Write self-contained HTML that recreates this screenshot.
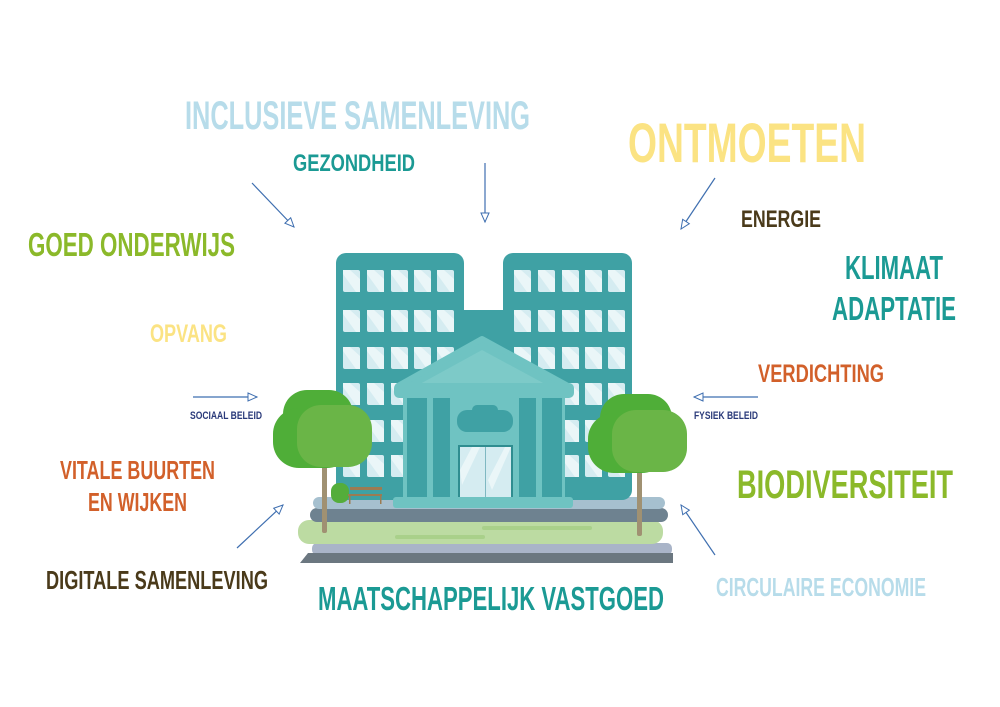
<!DOCTYPE html>
<html><head><meta charset="utf-8"><style>
html,body{margin:0;padding:0;background:#fff;}
svg{display:block;}
text{font-family:"Liberation Sans Narrow","Liberation Sans",sans-serif;font-weight:bold;}
</style></head><body>
<svg width="1000" height="707" viewBox="0 0 1000 707" xmlns="http://www.w3.org/2000/svg">
<defs>
<marker id="ah" markerWidth="12" markerHeight="12" refX="10" refY="5" orient="auto" markerUnits="userSpaceOnUse">
<path d="M1,1 L10,5 L1,9 Z" fill="#fff" stroke="#3f6fb0" stroke-width="1"/>
</marker>
<g id="w"><rect width="17" height="22" rx="2" fill="#d5ecf1"/><path d="M0,4 L13,22 L17,22 L17,9 L7,0 L0,0Z" fill="#eaf6f8"/></g>
</defs>
<rect width="1000" height="707" fill="#fff"/>
<rect x="312" y="543" width="360" height="12" rx="5" fill="#a9b4c8"/>
<path d="M308,553 L673,553 L673,563 L300,563 Z" fill="#6b7780"/>
<rect x="298" y="520" width="365" height="24" rx="11" fill="#bcdba2"/>
<rect x="482" y="526" width="110" height="4" rx="2" fill="#a9d08a"/>
<rect x="395" y="535" width="90" height="4" rx="2" fill="#a9d08a"/>
<rect x="310" y="508" width="358" height="14" rx="7" fill="#6e8290"/>
<rect x="313" y="497" width="352" height="12" rx="6" fill="#a6c0cf"/>
<rect x="464" y="310" width="40" height="190" fill="#3fa1a4"/>
<rect x="336" y="253" width="128" height="247" rx="10" fill="#3fa1a4"/>
<rect x="503" y="253" width="129" height="247" rx="10" fill="#3fa1a4"/>
<g id="wl">
<use href="#w" x="343" y="270"/><use href="#w" x="367" y="270"/><use href="#w" x="391" y="270"/><use href="#w" x="414" y="270"/><use href="#w" x="437" y="270"/>
</g>
<use href="#wl" y="40"/><use href="#wl" y="77"/><use href="#wl" y="113"/><use href="#wl" y="150"/><use href="#wl" y="185"/>
<use href="#wl" x="171"/><use href="#wl" x="171" y="40"/><use href="#wl" x="171" y="77"/><use href="#wl" x="171" y="113"/><use href="#wl" x="171" y="150"/><use href="#wl" x="171" y="185"/>
<path d="M482,339 L398,386 L568,386 Z" fill="#6fc3c2" stroke="#6fc3c2" stroke-width="6" stroke-linejoin="round"/>
<path d="M482,350 L420,384 L545,384 Z" fill="#7dcac8"/>
<rect x="394" y="383" width="180" height="15" rx="5" fill="#6fc3c2"/>
<rect x="403" y="398" width="162" height="100" fill="#6fc3c2"/>
<rect x="407" y="398" width="20" height="100" fill="#3fa1a4"/>
<rect x="433" y="398" width="17" height="100" fill="#3fa1a4"/>
<rect x="519" y="398" width="17" height="100" fill="#3fa1a4"/>
<rect x="542" y="398" width="20" height="100" fill="#3fa1a4"/>
<rect x="457" y="410" width="56" height="22" rx="10" fill="#3fa1a4"/>
<rect x="472" y="405" width="26" height="10" rx="5" fill="#3fa1a4"/>
<rect x="458" y="445" width="55" height="53" fill="#2f8d90"/>
<rect x="460" y="447" width="51" height="51" fill="#d5ecf1"/>
<path d="M460,470 L472,447 L480,447 L462,485Z M488,480 L505,447 L511,447 L492,490Z" fill="#eaf6f8"/>
<line x1="485.5" y1="447" x2="485.5" y2="498" stroke="#7fb8c2" stroke-width="1"/>
<rect x="393" y="497" width="180" height="11" rx="3" fill="#6fc3c2"/>
<rect x="331" y="483" width="18" height="20" rx="8" fill="#54ad3b"/>
<rect x="350" y="487" width="32" height="3" fill="#9c7b52"/>
<rect x="348" y="494" width="34" height="2" fill="#9c7b52"/>
<rect x="349" y="494" width="1.5" height="10" fill="#9c7b52"/><rect x="380" y="494" width="1.5" height="10" fill="#9c7b52"/>
<rect x="322" y="455" width="5" height="78" rx="2" fill="#a09172"/>
<rect x="283" y="390" width="70" height="55" rx="24" fill="#4fae38"/>
<rect x="273" y="408" width="80" height="60" rx="26" fill="#4fae38"/>
<rect x="297" y="405" width="75" height="62" rx="24" fill="#6ab547"/>
<rect x="637" y="460" width="5" height="76" rx="2" fill="#a09172"/>
<rect x="600" y="394" width="72" height="55" rx="24" fill="#4fae38"/>
<rect x="588" y="413" width="80" height="60" rx="26" fill="#4fae38"/>
<rect x="612" y="410" width="75" height="62" rx="24" fill="#6ab547"/>
<g stroke="#3f6fb0" stroke-width="1.2" fill="none" marker-end="url(#ah)">
<line x1="252" y1="183" x2="294" y2="227"/>
<line x1="485" y1="163" x2="485" y2="222"/>
<line x1="715" y1="178" x2="681" y2="229"/>
<line x1="193" y1="397" x2="257" y2="397"/>
<line x1="758" y1="397" x2="694" y2="397"/>
<line x1="237" y1="548" x2="283" y2="505"/>
<line x1="715" y1="555" x2="681" y2="505"/>
</g>
<text x="185" y="129" font-size="40" fill="#b7dcea" textLength="345" lengthAdjust="spacingAndGlyphs">INCLUSIEVE SAMENLEVING</text>
<text x="293" y="171" font-size="24" fill="#1b9a94" textLength="122" lengthAdjust="spacingAndGlyphs">GEZONDHEID</text>
<text x="628" y="162" font-size="56" fill="#fbe383" textLength="238" lengthAdjust="spacingAndGlyphs">ONTMOETEN</text>
<text x="741" y="227" font-size="24" fill="#4a3a1a" textLength="80" lengthAdjust="spacingAndGlyphs">ENERGIE</text>
<text x="845" y="279" font-size="33" fill="#1b9a94" textLength="98" lengthAdjust="spacingAndGlyphs">KLIMAAT</text>
<text x="832" y="320" font-size="33" fill="#1b9a94" textLength="124" lengthAdjust="spacingAndGlyphs">ADAPTATIE</text>
<text x="28" y="256" font-size="33" fill="#8bb92a" textLength="207" lengthAdjust="spacingAndGlyphs">GOED ONDERWIJS</text>
<text x="150" y="342" font-size="25" fill="#fbe383" textLength="77" lengthAdjust="spacingAndGlyphs">OPVANG</text>
<text x="758" y="382" font-size="25" fill="#d2602a" textLength="126" lengthAdjust="spacingAndGlyphs">VERDICHTING</text>
<text x="190" y="419" font-size="11" fill="#2a3a7a" textLength="72" lengthAdjust="spacingAndGlyphs">SOCIAAL BELEID</text>
<text x="694" y="419" font-size="11" fill="#2a3a7a" textLength="64" lengthAdjust="spacingAndGlyphs">FYSIEK BELEID</text>
<text x="60" y="479" font-size="26" fill="#d2602a" textLength="155" lengthAdjust="spacingAndGlyphs">VITALE BUURTEN</text>
<text x="88" y="511" font-size="26" fill="#d2602a" textLength="99" lengthAdjust="spacingAndGlyphs">EN WIJKEN</text>
<text x="737" y="498" font-size="40" fill="#8bb92a" textLength="216" lengthAdjust="spacingAndGlyphs">BIODIVERSITEIT</text>
<text x="46" y="589" font-size="26" fill="#4a3a1a" textLength="222" lengthAdjust="spacingAndGlyphs">DIGITALE SAMENLEVING</text>
<text x="318" y="610" font-size="33" fill="#1b9a94" textLength="346" lengthAdjust="spacingAndGlyphs">MAATSCHAPPELIJK VASTGOED</text>
<text x="716" y="596" font-size="26" fill="#b7dcea" textLength="210" lengthAdjust="spacingAndGlyphs">CIRCULAIRE ECONOMIE</text>
</svg>
</body></html>
